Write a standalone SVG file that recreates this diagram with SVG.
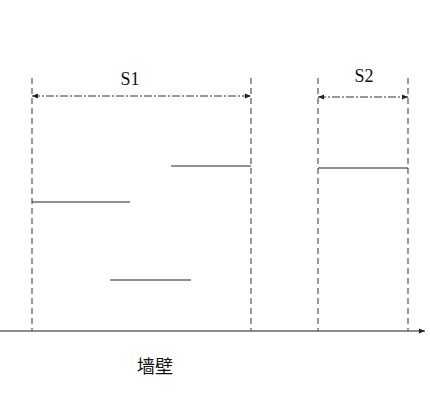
<svg xmlns="http://www.w3.org/2000/svg" width="430" height="407" viewBox="0 0 430 407">
<style>
.dash{stroke:#555;stroke-width:1.2;stroke-dasharray:6,4;fill:none}
.dim{stroke:#333;stroke-width:1;stroke-dasharray:8,2,2,2;fill:none}
.seg{stroke:#222;stroke-width:1.2;fill:none}
.t{font-family:"Liberation Serif","Noto Sans CJK SC",serif;font-size:18px;fill:#111}
</style>
<defs>
<marker id="a" markerWidth="6" markerHeight="6" refX="6" refY="3" orient="auto-start-reverse" markerUnits="userSpaceOnUse"><path d="M0,0.5 L6,3 L0,5.5 Z" fill="#222"/></marker>
</defs>
<rect width="430" height="407" fill="#fff"/>
<g id="connectors">
<line class="dash" x1="32" y1="78" x2="32" y2="331"/>
<line class="dash" x1="251" y1="78" x2="251" y2="331"/>
<line class="dash" x1="318" y1="78" x2="318" y2="331"/>
<line class="dash" x1="408" y1="78" x2="408" y2="331"/>
<line class="dim" x1="32" y1="96" x2="251" y2="96" marker-start="url(#a)" marker-end="url(#a)"/>
<line class="dim" x1="318" y1="97" x2="408" y2="97" marker-start="url(#a)" marker-end="url(#a)"/>
<line x1="0" y1="331" x2="425" y2="331" stroke="#666" stroke-width="1.4" marker-end="url(#a)"/>
</g>
<g id="segments">
<line class="seg" x1="171" y1="166" x2="251" y2="166"/>
<line class="seg" x1="32" y1="202" x2="130" y2="202"/>
<line class="seg" x1="110" y1="280" x2="191" y2="280"/>
<line class="seg" x1="318" y1="168" x2="408" y2="168"/>
</g>
<g id="labels">
<text class="t" x="130" y="85" text-anchor="middle">S1</text>
<text class="t" x="364" y="82" text-anchor="middle">S2</text>
<text class="t" x="155" y="373" text-anchor="middle">墙壁</text>
</g>
</svg>
